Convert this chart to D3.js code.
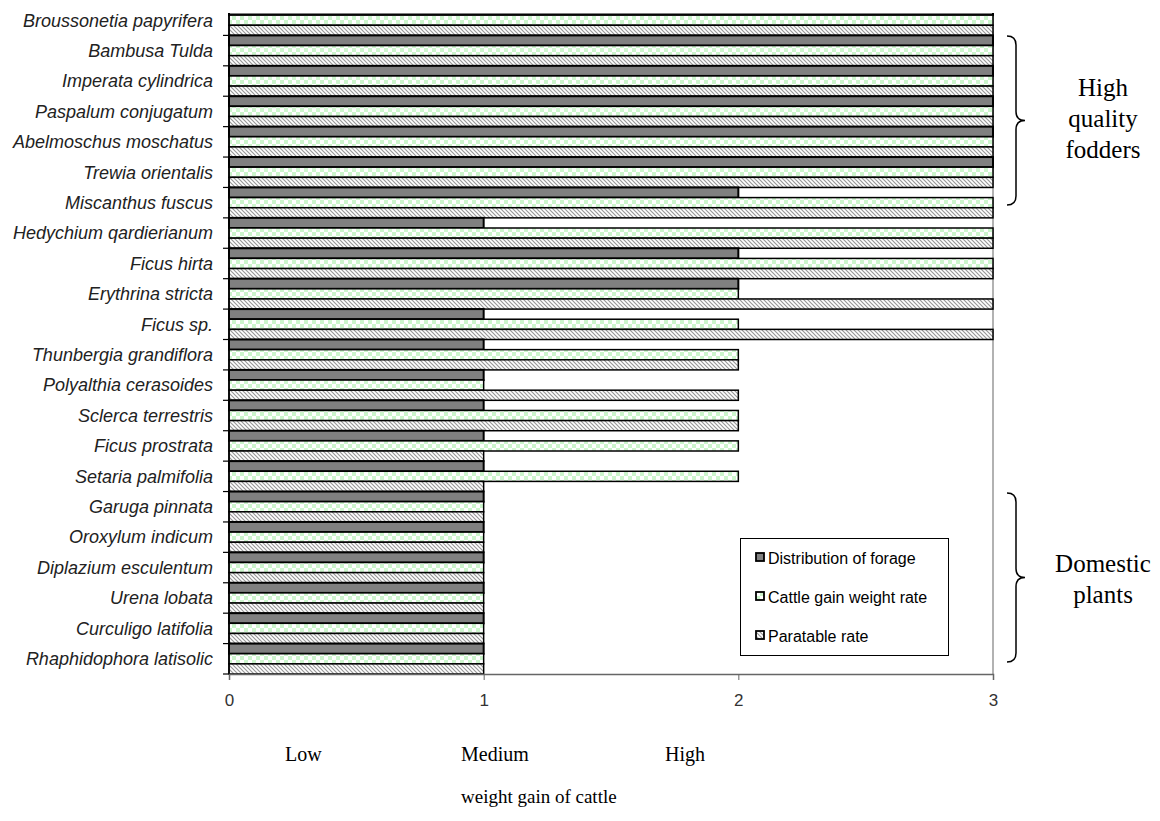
<!DOCTYPE html>
<meta charset="utf-8">
<style>
body { margin: 0; background: #fff; }
.ylab { font-family: "Liberation Sans", Arial, sans-serif; font-style: italic; font-size: 18px; fill: #222; }
.serif { font-family: "Liberation Serif", "Times New Roman", serif; fill: #000; }
.leg { font-family: "Liberation Sans", Arial, sans-serif; font-size: 16px; fill: #000; }
</style>
<svg width="1160" height="821"></svg>
<script src="https://cdn.jsdelivr.net/npm/d3@7"></script>
<script>

var categories = ["Broussonetia papyrifera", "Bambusa Tulda", "Imperata cylindrica", "Paspalum conjugatum",
  "Abelmoschus moschatus", "Trewia orientalis", "Miscanthus fuscus", "Hedychium qardierianum",
  "Ficus hirta", "Erythrina stricta", "Ficus sp.", "Thunbergia grandiflora", "Polyalthia cerasoides",
  "Sclerca terrestris", "Ficus prostrata", "Setaria palmifolia", "Garuga pinnata", "Oroxylum indicum",
  "Diplazium esculentum", "Urena lobata", "Curculigo latifolia", "Rhaphidophora latisolic"];

var distribution = [3, 3, 3, 3, 3, 3, 2, 1, 2, 2, 1, 1, 1, 1, 1, 1, 1, 1, 1, 1, 1, 1];
var cattleGain   = [3, 3, 3, 3, 3, 3, 3, 3, 3, 2, 2, 2, 1, 2, 2, 2, 1, 1, 1, 1, 1, 1];
var paratable    = [3, 3, 3, 3, 3, 3, 3, 3, 3, 3, 3, 2, 2, 2, 1, 1, 1, 1, 1, 1, 1, 1];

var seriesNames = ["Distribution  of forage", "Cattle gain weight  rate", "Paratable  rate"];
var xTicks = [0, 1, 2, 3];
var levelLabels = ["Low", "Medium", "High"];

var svg = d3.select("svg");
var defs = svg.append("defs");

// checker pattern (light green / white)
var chk = defs.append("pattern").attr("id", "chk")
    .attr("patternUnits", "userSpaceOnUse").attr("width", 8).attr("height", 8);
chk.append("rect").attr("width", 8).attr("height", 8).attr("fill", "#fff");
chk.append("rect").attr("width", 4).attr("height", 4).attr("fill", "#ccf5cc");
chk.append("rect").attr("x", 4).attr("y", 4).attr("width", 4).attr("height", 4).attr("fill", "#ccf5cc");

// diagonal hatch
var hat = defs.append("pattern").attr("id", "hat")
    .attr("patternUnits", "userSpaceOnUse").attr("width", 4).attr("height", 4);
hat.append("rect").attr("width", 4).attr("height", 4).attr("fill", "#fff");
hat.append("path").attr("d", "M-1,-1L5,5M-1,3L1,5M3,-1L5,1")
    .attr("stroke", "#999").attr("stroke-width", 1.2);

var fills = ["#808080", "url(#chk)", "url(#hat)"];
var values = [distribution, cattleGain, paratable];

var plotTop = 13, plotBottom = 674;

var x = d3.scaleLinear().domain([0, 3]).range([229, 993]);
var y = d3.scaleBand().domain(categories).range([5, 674]).padding(0);
var ys = d3.scaleBand().domain([0, 1, 2]).range([0, y.bandwidth()]);

defs.append("clipPath").attr("id", "plotclip")
  .append("rect").attr("x", 0).attr("y", plotTop).attr("width", 1160).attr("height", plotBottom - plotTop + 2);

// right border of plot
svg.append("line")
    .attr("x1", x(3)).attr("x2", x(3)).attr("y1", plotTop).attr("y2", plotBottom)
    .attr("stroke", "#999").attr("stroke-width", 1.5);

var rows = [];
categories.forEach(function(c, i) {
  for (var s = 0; s < 3; s++) rows.push({cat: c, s: s, v: values[s][i]});
});

svg.append("g").attr("clip-path", "url(#plotclip)")
  .selectAll("rect")
  .data(rows)
  .enter().append("rect")
    .attr("x", x(0))
    .attr("y", function(d) { return y(d.cat) + ys(d.s); })
    .attr("width", function(d) { return x(d.v) - x(0); })
    .attr("height", ys.bandwidth())
    .attr("fill", function(d) { return fills[d.s]; })
    .attr("stroke", "#000")
    .attr("stroke-width", function(d) { return d.s == 0 ? 2 : 1.5; });

// y axis
svg.append("line")
    .attr("x1", x(0)).attr("x2", x(0)).attr("y1", plotTop).attr("y2", plotBottom)
    .attr("stroke", "#000").attr("stroke-width", 1.5);

svg.append("g").selectAll("line")
  .data(categories.slice(1))
  .enter().append("line")
    .attr("x1", x(0) - 6).attr("x2", x(0))
    .attr("y1", function(d) { return y(d); }).attr("y2", function(d) { return y(d); })
    .attr("stroke", "#000").attr("stroke-width", 1.2);
svg.append("line")
    .attr("x1", x(0) - 6).attr("x2", x(0)).attr("y1", plotBottom).attr("y2", plotBottom)
    .attr("stroke", "#000").attr("stroke-width", 1.2);

svg.append("g").selectAll("text")
  .data(categories)
  .enter().append("text")
    .attr("class", "ylab")
    .attr("x", 213)
    .attr("y", function(d) { return y(d) + y.bandwidth() / 2; })
    .attr("dy", "0.35em")
    .attr("text-anchor", "end")
    .text(function(d) { return d; });

// x axis
var xa = svg.append("g")
    .attr("transform", "translate(0," + plotBottom + ")")
    .call(d3.axisBottom(x).tickValues(xTicks).tickFormat(d3.format("d")).tickSize(6).tickPadding(14))
    .attr("font-size", 17)
    .attr("font-family", "Liberation Sans, Arial, sans-serif");
xa.select(".domain").attr("stroke", "#666").attr("stroke-width", 1.5);
xa.selectAll(".tick line").attr("stroke", "#666");
xa.selectAll(".tick text").attr("fill", "#333");

// level labels under axis
svg.append("g").selectAll("text")
  .data(levelLabels)
  .enter().append("text")
    .attr("class", "serif")
    .style("font-size", "20px")
    .attr("x", function(d, i) { return [285, 461, 665][i]; })
    .attr("y", 761)
    .text(function(d) { return d; });

svg.append("text")
    .attr("class", "serif")
    .style("font-size", "19px")
    .attr("x", 461).attr("y", 803)
    .text("weight gain of cattle");

// legend
var lg = svg.append("g");
lg.append("rect")
    .attr("x", 740.5).attr("y", 538.5).attr("width", 208).attr("height", 117)
    .attr("fill", "#fff").attr("stroke", "#000").attr("stroke-width", 1);
seriesNames.forEach(function(n, i) {
  var yy = 558 + i * 39;
  lg.append("rect")
      .attr("x", 756).attr("y", yy - 5).attr("width", 8).attr("height", 8)
      .attr("fill", fills[i]).attr("stroke", "#000").attr("stroke-width", 1.8);
  lg.append("text").attr("class", "leg")
      .attr("x", 768).attr("y", yy).attr("dy", "0.35em")
      .text(n);
});

// braces
function brace(x0, y0, y1, w) {
  var m = (y0 + y1) / 2, h = w / 2, r = 9;
  return "M" + x0 + "," + y0 +
    "Q" + (x0 + h) + "," + y0 + " " + (x0 + h) + "," + (y0 + r) +
    "L" + (x0 + h) + "," + (m - r) +
    "Q" + (x0 + h) + "," + m + " " + (x0 + w) + "," + m +
    "Q" + (x0 + h) + "," + m + " " + (x0 + h) + "," + (m + r) +
    "L" + (x0 + h) + "," + (y1 - r) +
    "Q" + (x0 + h) + "," + y1 + " " + x0 + "," + y1;
}

var groups = [
  {y0: 36, y1: 205, lines: ["High", "quality", "fodders"], ty: 96},
  {y0: 493, y1: 662, lines: ["Domestic", "plants"], ty: 572}
];
groups.forEach(function(g) {
  svg.append("path")
      .attr("d", brace(1007, g.y0, g.y1, 18))
      .attr("fill", "none").attr("stroke", "#000").attr("stroke-width", 1.5);
  g.lines.forEach(function(t, i) {
    svg.append("text")
        .attr("class", "serif")
        .style("font-size", "25px")
        .attr("x", 1103).attr("y", g.ty + i * 31)
        .attr("text-anchor", "middle")
        .text(t);
  });
});

</script>
